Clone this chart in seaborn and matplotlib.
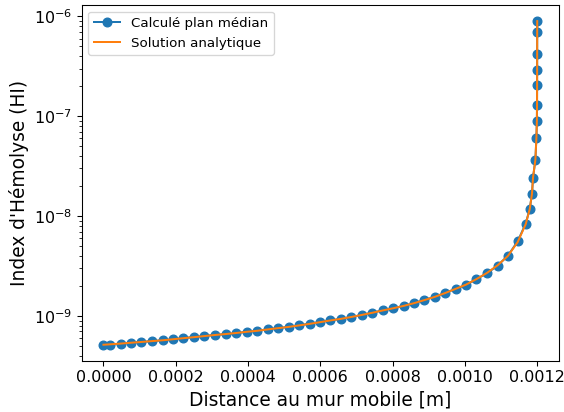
import numpy as np
import pandas as pd
import matplotlib
matplotlib.use("Agg")
import matplotlib.pyplot as plt
import matplotlib.ticker as mticker
import seaborn as sns

# distance au mur mobile [m]
distance = [0.0, 1.83e-5, 4.79e-5, 7.55e-5, 1.051e-4, 1.344e-4, 1.640e-4, 1.917e-4,
            2.213e-4, 2.498e-4, 2.794e-4, 3.087e-4, 3.383e-4, 3.668e-4, 3.964e-4,
            4.249e-4, 4.545e-4, 4.830e-4, 5.125e-4, 5.421e-4, 5.706e-4, 5.988e-4,
            6.279e-4, 6.572e-4, 6.860e-4, 7.153e-4, 7.441e-4, 7.734e-4, 8.021e-4,
            8.306e-4, 8.591e-4, 8.873e-4, 9.158e-4, 9.449e-4, 9.745e-4, 1.0030e-3,
            1.0318e-3, 1.0611e-3, 1.0906e-3, 1.1191e-3, 1.1460e-3, 1.1681e-3,
            1.1792e-3, 1.1855e-3, 1.1883e-3, 1.1949e-3, 1.1977e-3, 1.1990e-3,
            1.1994e-3, 1.1996e-3, 1.1997e-3, 1.1998e-3, 1.1999e-3, 1.2000e-3]

# HI calcule dans le plan median
hi_calcule = [5.15e-10, 5.15e-10, 5.27e-10, 5.40e-10, 5.48e-10, 5.61e-10, 5.70e-10,
              5.83e-10, 6.01e-10, 6.15e-10, 6.29e-10, 6.49e-10, 6.55e-10, 6.70e-10,
              6.96e-10, 7.07e-10, 7.36e-10, 7.58e-10, 7.76e-10, 8.07e-10, 8.38e-10,
              8.67e-10, 9.06e-10, 9.33e-10, 9.77e-10, 1.023e-9, 1.079e-9, 1.140e-9,
              1.194e-9, 1.259e-9, 1.340e-9, 1.445e-9, 1.552e-9, 1.702e-9, 1.866e-9,
              2.046e-9, 2.333e-9, 2.681e-9, 3.196e-9, 4.027e-9, 5.61e-9, 8.43e-9,
              1.175e-8, 1.674e-8, 2.42e-8, 3.67e-8, 6.10e-8, 8.93e-8, 1.286e-7,
              2.04e-7, 2.93e-7, 4.25e-7, 7.03e-7, 8.97e-7]

# solution analytique aux memes points
hi_analytique = [5.15e-10, 5.20e-10, 5.29e-10, 5.39e-10, 5.49e-10, 5.60e-10, 5.71e-10,
                 5.84e-10, 5.99e-10, 6.13e-10, 6.29e-10, 6.45e-10, 6.59e-10, 6.75e-10,
                 6.94e-10, 7.10e-10, 7.33e-10, 7.55e-10, 7.77e-10, 8.05e-10, 8.34e-10,
                 8.66e-10, 9.02e-10, 9.36e-10, 9.77e-10, 1.025e-9, 1.077e-9, 1.137e-9,
                 1.196e-9, 1.262e-9, 1.343e-9, 1.440e-9, 1.550e-9, 1.695e-9, 1.870e-9,
                 2.060e-9, 2.340e-9, 2.700e-9, 3.220e-9, 4.000e-9, 5.50e-9, 8.30e-9,
                 1.175e-8, 1.674e-8, 2.42e-8, 3.67e-8, 6.10e-8, 8.93e-8, 1.286e-7,
                 2.04e-7, 2.93e-7, 4.25e-7, 7.03e-7, 8.97e-7]

df = pd.DataFrame({"x": distance, "calc": hi_calcule, "ana": hi_analytique})

fig = plt.figure(figsize=(564/96, 412/96), dpi=96)
ax = fig.add_axes([0.145, 0.124, 0.846, 0.864])

sns.lineplot(data=df, x="x", y="calc", marker="o", markersize=6.5,
             markeredgecolor="#1f77b4", markeredgewidth=1,
             color="#1f77b4", label="Calculé plan médian", estimator=None, sort=False, ax=ax)
sns.lineplot(data=df, x="x", y="ana", color="#ff7f0e", label="Solution analytique",
             estimator=None, sort=False, ax=ax)

ax.set_yscale("log")
ax.set_xlabel("Distance au mur mobile [m]", fontsize=14)
ax.set_ylabel("Index d'Hémolyse (HI)", fontsize=14)
ax.tick_params(labelsize=12)
ax.xaxis.set_major_formatter(mticker.FormatStrFormatter("%.4f"))
ax.legend(loc="upper left", fontsize=10)

fig.savefig("out.png", dpi=96)
